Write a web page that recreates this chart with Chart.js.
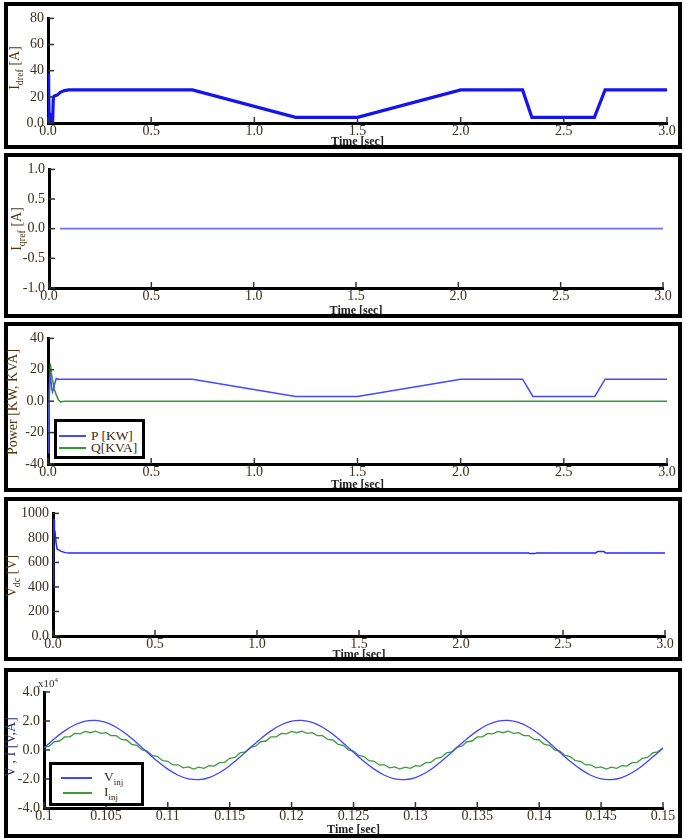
<!DOCTYPE html>
<html><head><meta charset="utf-8">
<script src="https://cdn.jsdelivr.net/npm/chart.js@4"></script>
<style>
body{margin:0;width:685px;height:839px;background:#fff;position:relative;overflow:hidden;font-family:'Liberation Serif',serif;}
.box{position:absolute;left:4px;width:670px;border:4px solid #000;background:#fff;}
.box canvas{display:block;}
.ytitle{position:absolute;transform:translate(-50%,-50%) rotate(-90deg);white-space:nowrap;font-size:14px;color:#4d3311;}
.ytitle sub{font-size:10px;}
.legend{position:absolute;border:3px solid #000;background:#fff;font-size:13.5px;color:#3a2a1a;box-sizing:border-box;}
.legend .ln{position:absolute;height:2px;}
.legend .tx{position:absolute;transform:translateY(-50%);white-space:nowrap;}
.legend sub{font-size:9px;}
#exp{position:absolute;left:38px;top:676px;font-size:11px;color:#333;}
#exp sup{font-size:7px;}
</style>
</head><body>
<div class="box" style="top:2px;height:139px"><canvas id="c1" width="670" height="139"></canvas></div>
<div class="box" style="top:153px;height:157px"><canvas id="c2" width="670" height="157"></canvas></div>
<div class="box" style="top:322px;height:162px"><canvas id="c3" width="670" height="162"></canvas></div>
<div class="box" style="top:497px;height:156px"><canvas id="c4" width="670" height="156"></canvas></div>
<div class="box" style="top:668px;height:162px"><canvas id="c5" width="670" height="162"></canvas></div>

<div class="ytitle" style="left:16px;top:68px">I<sub>dref</sub> [A]</div>
<div class="ytitle" style="left:18px;top:229px">I<sub>qref</sub> [A]</div>
<div class="ytitle" style="left:13px;top:402px">Power [KW, KVA]</div>
<div class="ytitle" style="left:13px;top:576px">V<sub>dc</sub> [V]</div>
<div class="ytitle" style="left:11px;top:747px;color:#1f2a66">V , I [V,A]</div>
<div id="exp">x10<sup>4</sup></div>

<div class="legend" style="left:54px;top:419px;width:91px;height:40px">
  <div class="ln" style="left:2px;width:27px;top:13px;background:#4848ff"></div>
  <div class="tx" style="left:34px;top:14px">P [KW]</div>
  <div class="ln" style="left:2px;width:27px;top:25px;background:#2e9a2e"></div>
  <div class="tx" style="left:34px;top:26px">Q[KVA]</div>
</div>
<div class="legend" style="left:49px;top:762px;width:95px;height:44px">
  <div class="ln" style="left:9px;width:31px;top:12px;background:#4444ff"></div>
  <div class="tx" style="left:52px;top:13px">V<sub>inj</sub></div>
  <div class="ln" style="left:11px;width:29px;top:27px;background:#3c9c3c"></div>
  <div class="tx" style="left:52px;top:28px">I<sub>inj</sub></div>
</div>

<script>
// ---- Panel 1: Idref ----
const idrefT = [0.002, 0.003, 0.005, 0.007, 0.012, 0.016, 0.019, 0.022, 0.026, 0.03, 0.045, 0.06, 0.08, 0.1, 0.7, 1.2, 1.5, 2.0, 2.3, 2.345, 2.648, 2.7, 3.0];
const idrefV = [38, 30, 8, 0, 0, 7, 2, 0, 20, 20.5, 21.5, 23.5, 24.8, 25.3, 25.3, 4.3, 4.3, 25.3, 25.3, 4.3, 4.3, 25.3, 25.3];
// ---- Panel 2: Iqref ----
const iqrefT = [0.054, 3.0];
const iqrefV = [0, 0];
// ---- Panel 3: Power ----
const pT = [0.002, 0.004, 0.008, 0.012, 0.018, 0.022, 0.03, 0.04, 0.05, 0.7, 1.2, 1.5, 2.0, 2.3, 2.35, 2.65, 2.7, 3.0];
const pV = [-33, -10, 15, 16, 8, 6, 10, 14.5, 14, 14, 3, 3, 14, 14, 3, 3, 14, 14];
const qT = [0.002, 0.004, 0.008, 0.012, 0.016, 0.02, 0.03, 0.04, 0.05, 0.06, 0.08, 3.0];
const qV = [-20, -5, 10, 24, 18, 15, 8, 4, 1, -0.5, 0, 0];
// ---- Panel 4: Vdc ----
const vdcT = [0.002, 0.003, 0.005, 0.007, 0.01, 0.015, 0.02, 0.03, 0.04, 0.06, 0.08, 2.33, 2.34, 2.36, 2.37, 2.66, 2.67, 2.7, 2.71, 3.0];
const vdcV = [420, 950, 950, 870, 850, 760, 710, 700, 690, 680, 677, 677, 672, 672, 677, 677, 690, 690, 677, 677];
// ---- Panel 5: Vinj / Iinj (x10^4) ----
const vinjT0 = 0.1, vinjStep = 1/1200;
const vinjV = [0.15,0.78,1.32,1.74,1.99,2.04,1.90,1.57,1.08,0.49,-0.15,-0.78,-1.32,-1.74,-1.99,-2.04,-1.90,-1.57,-1.08,-0.49,
  0.15,0.78,1.32,1.74,1.99,2.04,1.90,1.57,1.08,0.49,-0.15,-0.78,-1.32,-1.74,-1.99,-2.04,-1.90,-1.57,-1.08,-0.49,
  0.15,0.78,1.32,1.74,1.99,2.04,1.90,1.57,1.08,0.49,-0.15,-0.78,-1.32,-1.74,-1.99,-2.04,-1.90,-1.57,-1.08,-0.49,0.12];
const iinjT0 = 0.1, iinjStep = 1/2400;
const iinjV = [0.19,0.26,0.57,0.62,0.90,0.91,1.14,1.11,1.28,1.19,1.30,1.15,1.20,0.99,0.99,0.73,0.69,0.39,0.32,0.01,
  -0.07,-0.38,-0.45,-0.74,-0.78,-1.03,-1.02,-1.23,-1.16,-1.31,-1.18,-1.27,-1.08,-1.11,-0.87,-0.85,-0.57,-0.51,-0.20,-0.13,
  0.19,0.26,0.57,0.62,0.90,0.91,1.14,1.11,1.28,1.19,1.30,1.15,1.20,0.99,0.99,0.73,0.69,0.39,0.32,0.01,
  -0.07,-0.38,-0.45,-0.74,-0.78,-1.03,-1.02,-1.23,-1.16,-1.31,-1.18,-1.27,-1.08,-1.11,-0.87,-0.85,-0.57,-0.51,-0.20,-0.13,
  0.19,0.26,0.57,0.62,0.90,0.91,1.14,1.11,1.28,1.19,1.30,1.15,1.20,0.99,0.99,0.73,0.69,0.39,0.32,0.01,
  -0.07,-0.38,-0.45,-0.74,-0.78,-1.03,-1.02,-1.23,-1.16,-1.31,-1.18,-1.27,-1.08,-1.11,-0.87,-0.85,-0.57,-0.51,-0.20,-0.13,0.15];

const pts = (T, V) => V.map((v, i) => ({x: T[i], y: v}));
const grid = (t0, step, n) => Array.from({length: n}, (_, i) => t0 + i * step);

const SERIF = "'Liberation Serif', 'Times New Roman', serif";
const innerTicks = {
  id: 'innerTicks',
  afterDatasetsDraw(chart) {
    const {ctx, chartArea: a, scales: {x, y}} = chart;
    ctx.save();
    ctx.strokeStyle = '#333'; ctx.lineWidth = 1.5;
    x.ticks.forEach((t, i) => { const px = x.getPixelForTick(i); ctx.beginPath(); ctx.moveTo(px, a.bottom); ctx.lineTo(px, a.bottom - 6); ctx.stroke(); });
    y.ticks.forEach((t, i) => { const py = y.getPixelForTick(i); ctx.beginPath(); ctx.moveTo(a.left, py); ctx.lineTo(a.left + 6, py); ctx.stroke(); });
    ctx.restore();
  }
};

function make(id, o) {
  return new Chart(document.getElementById(id), {
    type: 'line',
    data: {datasets: o.datasets},
    options: {
      responsive: false, animation: false,
      layout: {padding: {top: o.T, right: o.R, left: 0, bottom: 0}},
      elements: {point: {radius: 0}, line: {tension: 0}},
      plugins: {legend: {display: false}, tooltip: {enabled: false}},
      scales: {
        x: {
          type: 'linear', min: o.xmin, max: o.xmax,
          grid: {display: false, drawTicks: false},
          border: {display: true, color: '#000', width: 3},
          ticks: {stepSize: o.xstep, padding: 0, color: '#3b3020', font: {family: SERIF, size: 14}, callback: o.xfmt, maxRotation: 0, autoSkip: false},
          title: {display: true, text: 'Time [sec]', color: '#222', font: {family: SERIF, size: 12, weight: 'bold'}, padding: {top: 0, bottom: o.tpb}},
          afterFit: s => { s.height = o.XH; }
        },
        y: {
          min: o.ymin, max: o.ymax,
          grid: {display: false, drawTicks: false},
          border: {display: true, color: '#000', width: 3},
          ticks: {stepSize: o.ystep, padding: 4, color: '#3b3020', font: {family: SERIF, size: 14}, callback: o.yfmt, autoSkip: false},
          afterFit: s => { s.width = o.L; }
        }
      }
    },
    plugins: [innerTicks]
  });
}
const fmtZero = v => v === 0 ? '0.0' : String(v);
const fmt1 = v => v.toFixed(1);
const fmtX5 = v => String(parseFloat(v.toFixed(3)));

make('c1', {T: 7, R: 11, L: 40, XH: 22, tpb: -4.4, xmin: 0, xmax: 3, xstep: 0.5, ymin: 0, ymax: 80, ystep: 20, xfmt: fmt1, yfmt: fmtZero,
  datasets: [{data: pts(idrefT, idrefV), borderColor: '#1414f0', borderWidth: 3.2}]});
make('c2', {T: 7, R: 15, L: 41, XH: 26, tpb: -4.2, xmin: 0, xmax: 3, xstep: 0.5, ymin: -1, ymax: 1, ystep: 0.5, xfmt: fmt1, yfmt: fmt1,
  datasets: [{data: pts(iqrefT, iqrefV), borderColor: '#7070ff', borderWidth: 1.8}]});
make('c3', {T: 7, R: 11, L: 40, XH: 24, tpb: -4.2, xmin: 0, xmax: 3, xstep: 0.5, ymin: -40, ymax: 40, ystep: 20, xfmt: fmt1, yfmt: fmtZero,
  datasets: [{data: pts(pT, pV), borderColor: '#4848ff', borderWidth: 1.5}, {data: pts(qT, qV), borderColor: '#2e9a2e', borderWidth: 1.5}]});
make('c4', {T: 7, R: 13, L: 45, XH: 21, tpb: -5.2, xmin: 0, xmax: 3, xstep: 0.5, ymin: 0, ymax: 1000, ystep: 200, xfmt: fmt1, yfmt: fmtZero,
  datasets: [{data: pts(vdcT, vdcV), borderColor: '#2525ff', borderWidth: 1.5}]});
make('c5', {T: 20, R: 15, L: 36, XH: 26, tpb: -3.2, xmin: 0.1, xmax: 0.15, xstep: 0.005, ymin: -4, ymax: 4, ystep: 2, xfmt: fmtX5, yfmt: fmt1,
  datasets: [{data: pts(grid(vinjT0, vinjStep, vinjV.length), vinjV), borderColor: '#4444ff', borderWidth: 1.3, tension: 0.3},
             {data: pts(grid(iinjT0, iinjStep, iinjV.length), iinjV), borderColor: '#3c9c3c', borderWidth: 1.3}]});
</script>
</body></html>
